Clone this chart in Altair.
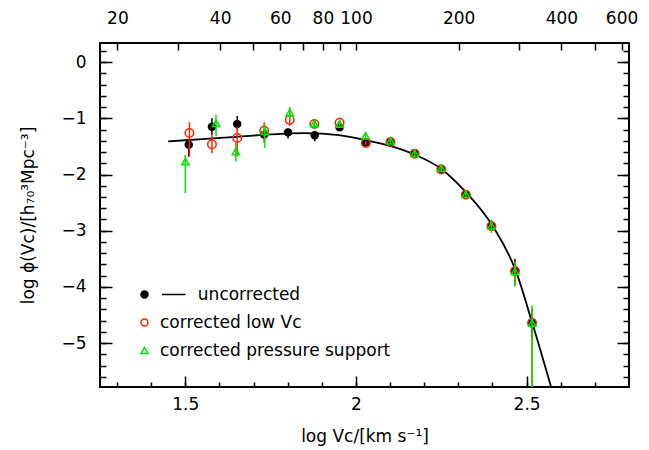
import math
import altair as alt
import pandas as pd

# ---------------- data ----------------
# uncorrected (black filled circles)
blk_x = [1.510, 1.578, 1.652, 1.731, 1.801, 1.879, 1.952, 2.029, 2.101, 2.172, 2.250, 2.322, 2.397, 2.466, 2.516]
blk_y = [-1.47, -1.15, -1.10, -1.29, -1.25, -1.30, -1.16, -1.43, -1.42, -1.62, -1.90, -2.36, -2.91, -3.71, -4.63]
blk_lo = [-1.68, -1.29, -1.20, -1.36, -1.36, -1.41, -1.21, -1.47, -1.45, -1.65, -1.94, -2.41, -3.00, -3.95, -4.90]
blk_hi = [-1.38, -1.00, -0.96, -1.22, -1.18, -1.22, -1.11, -1.39, -1.39, -1.59, -1.86, -2.31, -2.82, -3.50, -4.40]

# corrected low Vc (red open circles)
red_x = [1.512, 1.578, 1.652, 1.731, 1.806, 1.878, 1.952, 2.029, 2.101, 2.172, 2.250, 2.322, 2.397, 2.466, 2.516]
red_y = [-1.26, -1.46, -1.35, -1.22, -1.03, -1.10, -1.08, -1.44, -1.42, -1.63, -1.91, -2.36, -2.92, -3.72, -4.64]
red_lo = [-1.68, -1.62, -1.68, -1.44, -1.13, -1.17, -1.13, -1.48, -1.45, -1.66, -1.95, -2.41, -3.00, -3.95, -5.90]
red_hi = [-1.07, -1.28, -1.15, -1.07, -0.90, -1.03, -1.03, -1.40, -1.39, -1.60, -1.87, -2.31, -2.84, -3.52, -4.38]

# corrected pressure support (green open triangles)
grn_x = [1.500, 1.590, 1.648, 1.733, 1.806, 1.878, 1.952, 2.028, 2.101, 2.172, 2.250, 2.322, 2.397, 2.466, 2.516]
grn_y = [-1.77, -1.09, -1.59, -1.23, -0.90, -1.09, -1.10, -1.31, -1.40, -1.62, -1.89, -2.35, -2.91, -3.72, -4.64]
grn_lo = [-2.33, -1.32, -1.77, -1.53, -1.00, -1.19, -1.14, -1.35, -1.43, -1.67, -1.94, -2.41, -3.04, -3.99, -5.90]
grn_hi = [-1.65, -0.94, -1.44, -1.09, -0.80, -1.01, -1.06, -1.27, -1.37, -1.56, -1.84, -2.29, -2.80, -3.55, -4.33]

# fitted curve (black line)
fit_x = [1.45, 1.55, 1.65, 1.75, 1.85, 1.95, 2.03, 2.10, 2.17, 2.25, 2.32, 2.40, 2.47, 2.516, 2.575]
fit_y = [-1.41, -1.37, -1.33, -1.285, -1.262, -1.30, -1.39, -1.49, -1.64, -1.90, -2.30, -2.91, -3.74, -4.63, -5.85]

# legend entries ("uncorrected" is preceded by room for the line segment)
series_names = ["\u2060" + "\u00a0" * 7 + "uncorrected", "corrected low Vc", "corrected pressure support"]

# axis tick values
x_major = [1.5, 2.0, 2.5]
x_minor = [round(1.3 + 0.1 * i, 1) for i in range(15)]
y_major = [-5, -4, -3, -2, -1, 0]
y_minor = [round(-5.6 + 0.2 * i, 1) for i in range(30)]
top_kms = [20, 30, 40, 50, 60, 70, 80, 90, 100, 200, 300, 400, 500, 600]
top_labeled = [20, 40, 60, 80, 100, 200, 400, 600]

RED = "#ff2200"
GREEN = "#00e400"
FONT = "DejaVu Sans"

# ---------------- tables ----------------
fit_df = pd.DataFrame({"x": fit_x, "y": fit_y})
blk_df = pd.DataFrame({"x": blk_x, "y": blk_y, "lo": blk_lo, "hi": blk_hi})
red_df = pd.DataFrame({"x": red_x, "y": red_y, "lo": red_lo, "hi": red_hi})
grn_df = pd.DataFrame({"x": grn_x, "y": grn_y, "lo": grn_lo, "hi": grn_hi})
leg_df = pd.DataFrame({"series": series_names, "x": [1.5] * 3, "y": [0.0] * 3})

xs = alt.Scale(domain=[1.25, 2.8], nice=False, zero=False)
ys = alt.Scale(domain=[-5.78, 0.34], nice=False, zero=False)

top_vals = [math.log10(v) for v in top_kms]
top_expr = ("indexof([" + ",".join(str(v) for v in top_labeled) + "], round(pow(10, datum.value))) >= 0"
            " ? format(round(pow(10, datum.value)), 'd') : ''")


def tick_axis(orient, values, size):
    return alt.Axis(orient=orient, values=values, labels=False, domain=False, grid=False,
                    ticks=True, tickSize=size, offset=-size, title=None)


ax_x_lab = alt.Axis(orient="bottom", values=x_major, format="~g", ticks=False, tickSize=0,
                    domain=False, grid=False, labelPadding=9, labelFlush=False,
                    labelOverlap=False, title="log Vc/[km s\u207b\u00b9]", titlePadding=16)
ax_y_lab = alt.Axis(orient="left", values=y_major, format="d", ticks=False, tickSize=0,
                    domain=False, grid=False, labelPadding=14, labelFlush=False,
                    labelOverlap=False,
                    title="log \u03d5(Vc)/[h\u2087\u2080\u00b3Mpc\u207b\u00b3]", titlePadding=23)
ax_x_top = alt.Axis(orient="top", values=top_vals, labelExpr=top_expr, ticks=False, tickSize=0,
                    domain=False, grid=False, labelPadding=16, labelFlush=False,
                    labelOverlap=False, title=None)

curve = alt.Chart(fit_df).mark_line(color="black", strokeWidth=1.8, clip=True,
                                    interpolate="monotone").encode(
    x=alt.X("x:Q", scale=xs, axis=ax_x_lab),
    y=alt.Y("y:Q", scale=ys, axis=ax_y_lab),
)

blk_err = alt.Chart(blk_df).mark_rule(color="black", strokeWidth=1.5, clip=True).encode(
    x=alt.X("x:Q", scale=xs, axis=tick_axis("bottom", x_major, 11)),
    y=alt.Y("lo:Q", scale=ys, axis=tick_axis("left", y_major, 12)),
    y2="hi:Q",
)
blk_pts = alt.Chart(blk_df).mark_point(filled=True, shape="circle", size=72, color="black",
                                       opacity=1).encode(
    x=alt.X("x:Q", scale=xs, axis=tick_axis("bottom", x_minor, 5)),
    y=alt.Y("y:Q", scale=ys, axis=tick_axis("left", y_minor, 6)),
)
red_err = alt.Chart(red_df).mark_rule(color=RED, strokeWidth=1.5, clip=True).encode(
    x=alt.X("x:Q", scale=xs, axis=ax_x_top),
    y=alt.Y("lo:Q", scale=ys, axis=tick_axis("right", y_major, 12)),
    y2="hi:Q",
)
red_pts = alt.Chart(red_df).mark_point(filled=False, shape="circle", size=72, color=RED,
                                       strokeWidth=1.5, opacity=1).encode(
    x=alt.X("x:Q", scale=xs, axis=tick_axis("top", top_vals, 7)),
    y=alt.Y("y:Q", scale=ys, axis=tick_axis("right", y_minor, 6)),
)
grn_err = alt.Chart(grn_df).mark_rule(color=GREEN, strokeWidth=1.5, clip=True).encode(
    x=alt.X("x:Q", scale=xs, axis=None),
    y=alt.Y("lo:Q", scale=ys, axis=None),
    y2="hi:Q",
)
grn_pts = alt.Chart(grn_df).mark_point(filled=False, shape="triangle-up", size=55, color=GREEN,
                                       strokeWidth=1.5, opacity=1).encode(
    x=alt.X("x:Q", scale=xs, axis=None),
    y=alt.Y("y:Q", scale=ys, axis=None),
)

# legend (symbol for "uncorrected" = dot plus line segment)
dot_line = "M -1 0 A 1 1 0 1 0 1 0 A 1 1 0 1 0 -1 0 Z M 5 0 L 11.7 0"
legend = alt.Legend(orient="none", legendX=36, legendY=243, title=None, labelFont=FONT,
                    labelFontSize=17, labelColor="black", symbolSize=49, symbolStrokeWidth=1.5,
                    rowPadding=10, labelOffset=7, padding=0, labelLimit=0,
                    direction="vertical")
leg_layer = alt.Chart(leg_df).transform_filter("false").mark_point(opacity=1).encode(
    x=alt.X("x:Q", scale=xs, axis=None),
    y=alt.Y("y:Q", scale=ys, axis=None),
    shape=alt.Shape("series:N", scale=alt.Scale(domain=series_names,
                                                range=[dot_line, "circle", "triangle-up"]),
                    legend=legend),
    stroke=alt.Stroke("series:N", scale=alt.Scale(domain=series_names,
                                                  range=["black", RED, GREEN]), legend=legend),
    fill=alt.Fill("series:N", scale=alt.Scale(domain=series_names,
                                              range=["black", "transparent", "transparent"]),
                  legend=legend),
)

chart = alt.layer(curve, blk_err, blk_pts, red_err, red_pts, grn_err, grn_pts, leg_layer).resolve_axis(
    x="independent", y="independent"
).properties(
    width=529, height=344,
    background="white",
    autosize=alt.AutoSizeParams(type="none"),
    padding={"left": 92, "top": 35, "right": 12, "bottom": 63},
).configure_axis(
    labelFont=FONT, labelFontSize=17, labelColor="black",
    titleFont=FONT, titleFontSize=17, titleFontWeight="normal", titleColor="black",
    tickColor="black", tickWidth=1.5,
).configure_view(
    stroke="black", strokeWidth=2,
)

chart.save("out.html", embed_options={"renderer": "svg", "actions": False})
